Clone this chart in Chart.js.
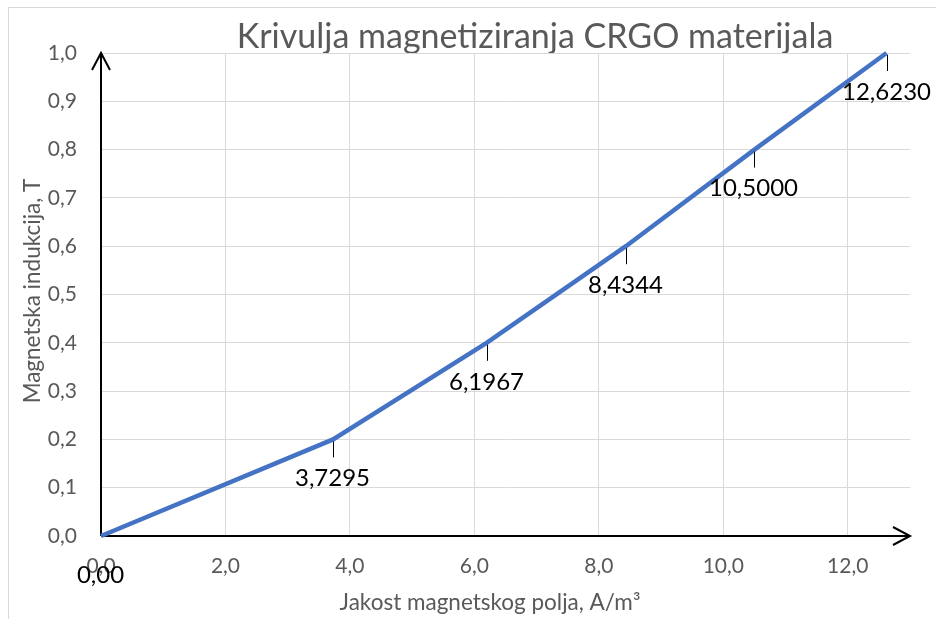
<!DOCTYPE html>
<html>
<head>
<meta charset="utf-8">
<script src="https://cdn.jsdelivr.net/npm/chart.js@4.4.1/dist/chart.umd.min.js"></script>
<style>
  body { margin: 0; background: #fff; }
  canvas { display: block; }
</style>
</head>
<body>
<canvas id="magChart" width="936" height="619"></canvas>
<script>
// Jakost polja H (A/m) i indukcija B (T)
const xValues = [0, 3.7295, 6.1967, 8.4344, 10.5, 12.623];
const yValues = [0, 0.2, 0.4, 0.6, 0.8, 1.0];
const pointLabels = ['0,00', '3,7295', '6,1967', '8,4344', '10,5000', '12,6230'];

const chartTitle = 'Krivulja magnetiziranja CRGO materijala';
const xTitle = 'Jakost magnetskog polja, A/m\u00B3';
const yTitle = 'Magnetska indukcija, T';

const FONT = "Lato, 'Open Sans', sans-serif";
const GREY = '#595959';

function comma(v, d) {
    return Number(v).toFixed(d).replace('.', ',');
}

// frame, titles, axis arrows and data labels, drawn the Excel way
const excelBits = {
    id: 'excelBits',
    beforeDraw(chart) {
        const c = chart.ctx;
        c.save();
        c.fillStyle = '#fff';
        c.fillRect(0, 0, chart.width, chart.height);
        c.strokeStyle = '#d9d9d9';
        c.lineWidth = 1;
        c.strokeRect(8.5, 7.5, 1000, 1000);

        c.fillStyle = GREY;
        c.textAlign = 'center';
        c.textBaseline = 'middle';
        c.font = '34px ' + FONT;
        c.fillText(chartTitle, 535, 37);

        c.font = '22.5px ' + FONT;
        c.fillText(xTitle, 490, 603);

        c.translate(33, 291);
        c.rotate(-Math.PI / 2);
        c.fillText(yTitle, 0, 0);
        c.restore();
    },
    beforeDatasetsDraw(chart) {
        const c = chart.ctx;
        const a = chart.chartArea;
        c.save();
        c.strokeStyle = '#000';
        c.lineWidth = 2;
        c.beginPath();
        // y axis + arrow
        c.moveTo(a.left, a.bottom);
        c.lineTo(a.left, a.top);
        c.moveTo(a.left - 9, a.top + 17);
        c.lineTo(a.left, a.top);
        c.lineTo(a.left + 9, a.top + 17);
        // x axis + arrow
        c.moveTo(a.left, a.bottom);
        c.lineTo(a.right, a.bottom);
        c.moveTo(a.right - 17, a.bottom - 9);
        c.lineTo(a.right, a.bottom);
        c.lineTo(a.right - 17, a.bottom + 9);
        c.stroke();
        c.restore();
    },
    afterDatasetsDraw(chart) {
        const c = chart.ctx;
        const xs = chart.scales.x, ys = chart.scales.y;
        c.save();
        c.fillStyle = '#000';
        c.strokeStyle = '#000';
        c.lineWidth = 1;
        c.font = '24px ' + FONT;
        c.textAlign = 'center';
        c.textBaseline = 'middle';
        xValues.forEach((xv, i) => {
            const px = Math.round(xs.getPixelForValue(xv)) + 0.5;
            const py = ys.getPixelForValue(yValues[i]);
            if (i > 0) {
                c.beginPath();
                c.moveTo(px, py + 2);
                c.lineTo(px, py + 18);
                c.stroke();
            }
            c.fillText(pointLabels[i], px - 1, py + 39);
        });
        c.restore();
    }
};

const ctx = document.getElementById('magChart').getContext('2d');
const magChart = new Chart(ctx, {
    type: 'scatter',
    data: {
        datasets: [{
            data: xValues.map((x, i) => ({ x: x, y: yValues[i] })),
            showLine: true,
            borderColor: '#4472C4',
            borderWidth: 4.5,
            pointRadius: 0,
            tension: 0,
            clip: 6
        }]
    },
    options: {
        responsive: false,
        animation: false,
        layout: { padding: { top: 53, right: 26, left: 0, bottom: 0 } },
        plugins: {
            legend: { display: false },
            tooltip: { enabled: false }
        },
        scales: {
            x: {
                type: 'linear',
                min: 0,
                max: 13,
                afterBuildTicks: s => { s.ticks = s.ticks.filter(t => t.value % 2 === 0); },
                afterFit: s => { s.height = 83; },
                ticks: {
                    stepSize: 2,
                    padding: 18,
                    color: GREY,
                    font: { family: FONT, size: 21 },
                    callback: v => comma(v, 1)
                },
                grid: { color: '#d9d9d9', drawTicks: false },
                border: { display: false }
            },
            y: {
                min: 0,
                max: 1,
                afterFit: s => { s.width = 101; },
                ticks: {
                    stepSize: 0.1,
                    padding: 24,
                    color: GREY,
                    font: { family: FONT, size: 21 },
                    callback: v => comma(v, 1)
                },
                grid: { color: '#d9d9d9', drawTicks: false },
                border: { display: false }
            }
        }
    },
    plugins: [excelBits]
});
</script>
</body>
</html>
